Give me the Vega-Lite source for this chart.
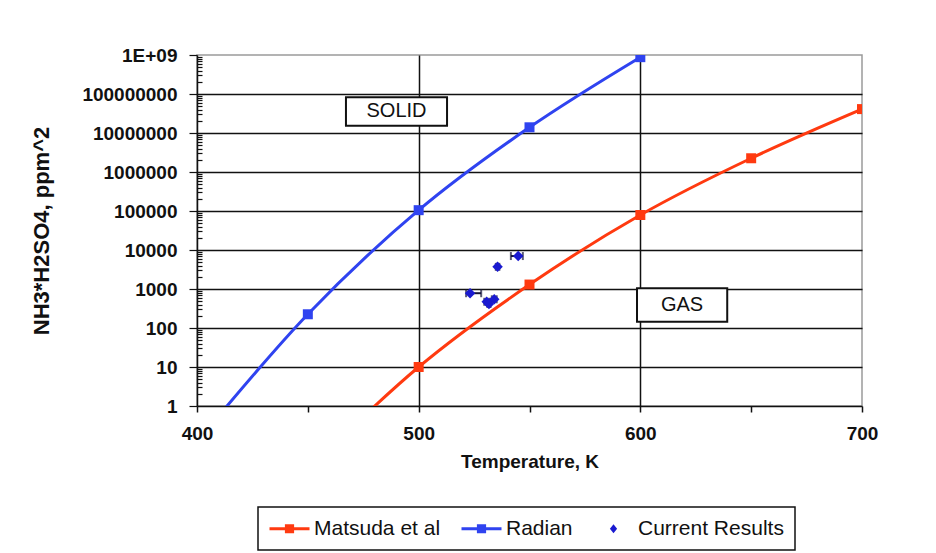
{
  "$schema": "https://vega.github.io/schema/vega-lite/v6.json",
  "width": 665,
  "height": 351,
  "autosize": {"type": "none"},
  "padding": {"left": 197, "top": 55, "right": 74, "bottom": 147},
  "background": "white",
  "config": {
    "font": "Liberation Sans",
    "view": {"stroke": "#9a9a9a", "strokeWidth": 1.5},
    "legend": {"strokeColor": "#111111", "strokeWidth": 1.5, "fillColor": "white", "padding": 11}
  },
  "datasets": {
    "series": [
      {"series": "Matsuda et al", "T": 450, "value": 0.023},
      {"series": "Matsuda et al", "T": 500, "value": 10},
      {"series": "Matsuda et al", "T": 550, "value": 1300},
      {"series": "Matsuda et al", "T": 600, "value": 79000},
      {"series": "Matsuda et al", "T": 650, "value": 2250000},
      {"series": "Matsuda et al", "T": 700, "value": 41000000},
      {"series": "Radian", "T": 400, "value": 0.12},
      {"series": "Radian", "T": 450, "value": 225},
      {"series": "Radian", "T": 500, "value": 105000},
      {"series": "Radian", "T": 550, "value": 14000000},
      {"series": "Radian", "T": 600, "value": 880000000}
    ],
    "current": [
      {"T": 544.9, "value": 7000, "Tlo": 541.6, "Thi": 547.0},
      {"T": 535.6, "value": 3700, "Tlo": 534.8, "Thi": 536.4},
      {"T": 523.2, "value": 780, "Tlo": 521.4, "Thi": 528.2},
      {"T": 530.7, "value": 470, "Tlo": 529.6, "Thi": 531.8},
      {"T": 534.1, "value": 545, "Tlo": 533.0, "Thi": 535.2},
      {"T": 531.7, "value": 412, "Tlo": 531.0, "Thi": 532.4}
    ],
    "boxes": [
      {"label": "SOLID", "T1": 467.2, "T2": 512.8, "v1": 82000000, "v2": 15400000, "Tt": 490, "vt": 35600000},
      {"label": "GAS", "T1": 598.5, "T2": 639.2, "v1": 1040, "v2": 145, "Tt": 618.8, "vt": 388}
    ]
  },
  "layer": [
    {
      "data": {"name": "series"},
      "mark": {"type": "line", "interpolate": "monotone", "strokeWidth": 3, "clip": true},
      "encoding": {
        "x": {
          "field": "T", "type": "quantitative", "title": "Temperature, K",
          "scale": {"domain": [400, 700], "nice": false, "zero": false},
          "axis": {
            "values": [400, 450, 500, 550, 600, 650, 700],
            "labelExpr": "datum.value % 100 === 0 ? datum.label : ''",
            "labelFont": "Liberation Sans", "labelFontSize": 19, "labelFontWeight": "bold", "labelColor": "#111111",
            "labelPadding": 12, "labelOverlap": false, "labelFlush": false,
            "titleFont": "Liberation Sans", "titleFontSize": 19, "titleFontWeight": "bold", "titleColor": "#111111", "titlePadding": 9,
            "domainColor": "#111111", "domainWidth": 1.5,
            "tickColor": "#111111", "tickWidth": 1.5, "tickSize": 6,
            "grid": true, "gridColor": "#111111", "gridWidth": 1.5,
            "gridOpacity": {"condition": {"test": "datum.value == 500 || datum.value == 600", "value": 1}, "value": 0}
          }
        },
        "y": {
          "field": "value", "type": "quantitative", "title": "NH3*H2SO4, ppm^2",
          "scale": {"type": "log", "domain": [1, 1000000000], "nice": false},
          "axis": {
            "values": [1,2,3,4,5,6,7,8,9,10,20,30,40,50,60,70,80,90,100,200,300,400,500,600,700,800,900,1000,2000,3000,4000,5000,6000,7000,8000,9000,10000,20000,30000,40000,50000,60000,70000,80000,90000,100000,200000,300000,400000,500000,600000,700000,800000,900000,1000000,2000000,3000000,4000000,5000000,6000000,7000000,8000000,9000000,10000000,20000000,30000000,40000000,50000000,60000000,70000000,80000000,90000000,100000000,200000000,300000000,400000000,500000000,600000000,700000000,800000000,900000000,1000000000],
            "labelExpr": "datum.value >= 1e9 ? '1E+09' : (abs(log(datum.value)/LN10 - round(log(datum.value)/LN10)) < 0.001 ? format(datum.value, 'd') : '')",
            "labelFont": "Liberation Sans", "labelFontSize": 19, "labelFontWeight": "bold", "labelColor": "#111111",
            "labelPadding": 12, "labelOverlap": false, "labelFlush": false,
            "titleFont": "Liberation Sans", "titleFontSize": 22, "titleFontWeight": "bold", "titleColor": "#111111", "titlePadding": 28,
            "domainColor": "#111111", "domainWidth": 1.5,
            "tickColor": "#111111", "tickWidth": 1.2,
            "tickSize": {"condition": {"test": "abs(log(datum.value)/LN10 - round(log(datum.value)/LN10)) < 0.001", "value": 8}, "value": -5},
            "grid": true, "gridColor": "#111111", "gridWidth": 1.5,
            "gridOpacity": {"condition": {"test": "abs(log(datum.value)/LN10 - round(log(datum.value)/LN10)) < 0.001 && datum.value < 5e8 && datum.value > 1.5", "value": 1}, "value": 0}
          }
        },
        "color": {
          "field": "series", "type": "nominal",
          "scale": {"domain": ["Matsuda et al", "Radian"], "range": ["#ff3a10", "#2f43f0"]},
          "legend": null
        }
      }
    },
    {
      "data": {"name": "series"},
      "mark": {"type": "point", "shape": "square", "filled": true, "size": 100, "opacity": 1, "clip": true},
      "encoding": {
        "x": {"field": "T", "type": "quantitative", "title": "Temperature, K"},
        "y": {"field": "value", "type": "quantitative", "title": "NH3*H2SO4, ppm^2"},
        "color": {"field": "series", "type": "nominal", "legend": null}
      }
    },
    {
      "data": {"name": "current"},
      "mark": {"type": "rule", "color": "#15153a", "strokeWidth": 2},
      "encoding": {
        "x": {"field": "Tlo", "type": "quantitative", "title": "Temperature, K"},
        "x2": {"field": "Thi"},
        "y": {"field": "value", "type": "quantitative", "title": "NH3*H2SO4, ppm^2"}
      }
    },
    {
      "data": {"name": "current"},
      "mark": {"type": "tick", "orient": "vertical", "color": "#15153a", "size": 8, "thickness": 2},
      "encoding": {
        "x": {"field": "Tlo", "type": "quantitative", "title": "Temperature, K"},
        "y": {"field": "value", "type": "quantitative", "title": "NH3*H2SO4, ppm^2"}
      }
    },
    {
      "data": {"name": "current"},
      "mark": {"type": "tick", "orient": "vertical", "color": "#15153a", "size": 8, "thickness": 2},
      "encoding": {
        "x": {"field": "Thi", "type": "quantitative", "title": "Temperature, K"},
        "y": {"field": "value", "type": "quantitative", "title": "NH3*H2SO4, ppm^2"}
      }
    },
    {
      "data": {"name": "current"},
      "mark": {"type": "point", "shape": "diamond", "filled": true, "size": 110, "color": "#1a1ad0", "opacity": 1},
      "encoding": {
        "x": {"field": "T", "type": "quantitative", "title": "Temperature, K"},
        "y": {"field": "value", "type": "quantitative", "title": "NH3*H2SO4, ppm^2"}
      }
    },
    {
      "data": {"name": "boxes"},
      "mark": {"type": "rect", "fill": "white", "stroke": "#111111", "strokeWidth": 2},
      "encoding": {
        "x": {"field": "T1", "type": "quantitative", "title": "Temperature, K"},
        "x2": {"field": "T2"},
        "y": {"field": "v1", "type": "quantitative", "title": "NH3*H2SO4, ppm^2"},
        "y2": {"field": "v2"}
      }
    },
    {
      "data": {"name": "boxes"},
      "mark": {"type": "text", "font": "Liberation Sans", "fontSize": 20, "color": "#111111", "align": "center", "baseline": "middle"},
      "encoding": {
        "x": {"field": "Tt", "type": "quantitative", "title": "Temperature, K"},
        "y": {"field": "vt", "type": "quantitative", "title": "NH3*H2SO4, ppm^2"},
        "text": {"field": "label", "type": "nominal"}
      }
    },
    {
      "data": {"name": "series"},
      "transform": [{"filter": "datum.value < 1"}],
      "mark": {"type": "point", "filled": true, "opacity": 1, "clip": true},
      "encoding": {
        "x": {"field": "T", "type": "quantitative", "title": "Temperature, K"},
        "y": {"field": "value", "type": "quantitative", "title": "NH3*H2SO4, ppm^2"},
        "fill": {
          "field": "series", "type": "nominal",
          "scale": {"domain": ["Matsuda et al", "Radian", "Current Results"], "range": ["#ff3a10", "#2f43f0", "#1a1ad0"]},
          "legend": {
            "title": null, "orient": "none", "legendX": 61, "legendY": 452, "direction": "horizontal",
            "labelFont": "Liberation Sans", "labelFontSize": 21, "labelColor": "#111111", "labelOffset": 24,
            "columnPadding": 20, "symbolSize": 400, "symbolStrokeWidth": 0, "symbolOpacity": 1
          }
        },
        "shape": {
          "field": "series", "type": "nominal",
          "scale": {"domain": ["Matsuda et al", "Radian", "Current Results"], "range": ["M-1,-0.15H3V0.15H-1ZM0.54,-0.46H1.46V0.46H0.54Z", "M-1,-0.15H3V0.15H-1ZM0.54,-0.46H1.46V0.46H0.54Z", "M1,-0.44L1.36,0L1,0.44L0.64,0Z"]},
          "legend": {
            "title": null, "orient": "none", "legendX": 61, "legendY": 452, "direction": "horizontal",
            "labelFont": "Liberation Sans", "labelFontSize": 21, "labelColor": "#111111", "labelOffset": 24,
            "columnPadding": 20, "symbolSize": 400, "symbolStrokeWidth": 0, "symbolOpacity": 1
          }
        }
      }
    }
  ]
}
